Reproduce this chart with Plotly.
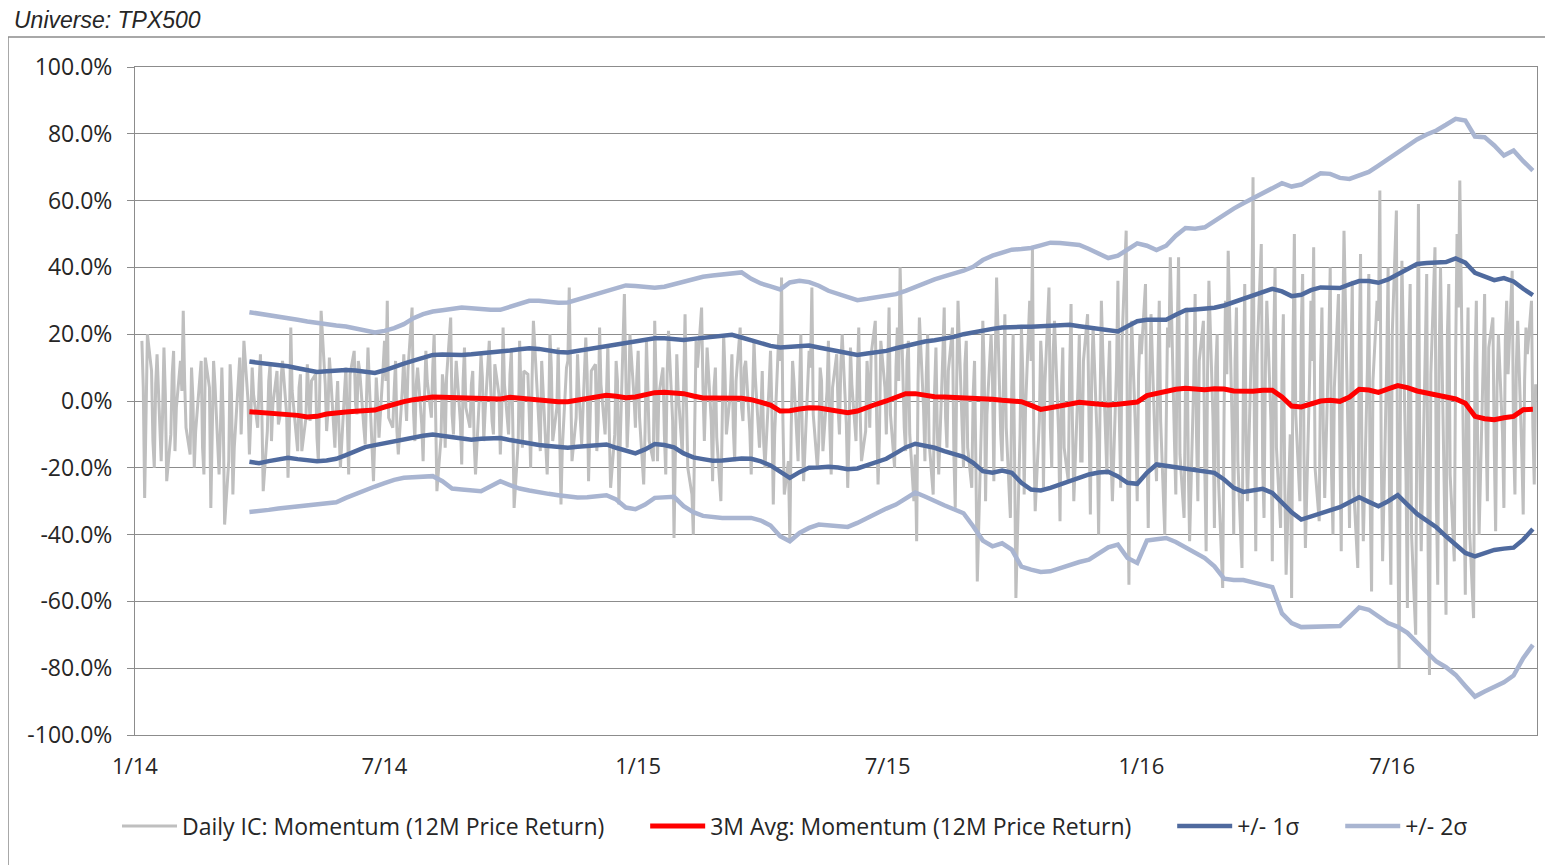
import pandas as pd
import plotly.graph_objects as go

# ---------------- data (values in %) ----------------
ic_start = "2014-01-06"      # daily IC, business days
band_start = "2014-03-25"    # 3M avg and sigma bands, weekly

daily_ic = [
    # Jan-Mar 2014
    18, 4, -29, -6, 20, 9, -12, -20, 5, 14, -18, -4, 16, 2, -24, -10, 8, 15, -15, -2,
    12, 3, 27, 6, -8, -16, 10, 1, -20, -9, 6, 12, -14, -22, 13, 4, -32, -12, 12, 5,
    -22, -8, 10, -5, -37, -18, 11, 2, -28, -14, 9, 13, -10, 6, 18, 0, -16, -5,
    # Apr-Sep 2014
    10, 2, -8, 5, 14, -3, -27, -9, 6, 11, -12, -1, 9, -7, -5, 7, 12, -4, -23, -8,
    22, 3, -10, -15, 4, 8, -15, -5, 11, 1, -6, 6, 8, -11, -18, 4, 27, 5, -9, -3,
    13, 7, -14, -2, 6, -9, -20, 3, 10, -6, -22, 8, 15, -1, -4, 12, 9, -8, -13, 2,
    16, 5, -24, -10, 7, 0, -11, 10, 18, 6, 30, -5, -8, 3, 12, -9, -16, 4, 14, 2,
    -6, 9, 28, -3, -12, 5, 10, -7, -18, 1, 15, 6, -5, 10, 20, -2, -27, -11, 8, 4,
    -14, 7, 25, -4, -10, 3, 12, -6, -19, 6, 16, -2, -8, 5, 9, -12, -22, 3, 14, 7,
    -12, -3, 18, 4, -6, -10, 11, 2, -16, -4,
    # Oct 2014 - Mar 2015
    22, 5, -10, 8, 15, -6, -32, -12, 18, 2, -14, 9, 8, -4, -20, 6, 24, 1, -8, -15,
    12, 4, -22, -7, 20, 10, -12, -2, 16, -9, -31, -14, 10, 12, 34, 6, -18, -5, 14, 3,
    -6, -13, 19, 8, -24, -3, 9, 11, -15, -6, 22, 5, -10, 2, 17, -8, -26, -10, 12, 6,
    -31, -12, 32, 9, -14, -4, 20, 1, -8, 7, 15, -5, -25, -9, 18, 4, -12, -18, 24, 6,
    -18, 2, 10, -10, -22, 8, 21, -6, -41, -15, 14, 3, -16, 5, 26, 0, -20, -28, -40, -8,
    18, 10, 28, 4,
    # Apr-Jul 2015
    -12, 2, 16, -6, -24, 4, 10, -11, -30, -5, 20, 8, -10, 3, 14, -8, -18, 6, 22, -2,
    -6, 10, 12, -9, -22, 1, 18, 7, -14, -4, 9, -12, -20, 5, 15, -3, -31, -10, 20, 12,
    37, -6, -28, -18, -42, -8, 12, 6, -18, 2, 20, -9, -24, 5, 15, 10, 34, -4, -20, -12,
    10, 6, -15, 3, 18, -8, -22, 4, 14, -2, -10, 11, 20, -7, -26, -10, 16, 5, -12, 8,
    22, -3, -18, -9, 12, 5, -8, 14, 24, -6, -25, -11, 18, 4, -10, 9,
    # Aug-Sep 2015
    28, -4, -20, 10, 22, 6, 40, -8, -15, 12, 18, -10, -30, -16, -42, 5, 25, -2, -18, 8,
    20, -12, -28, 3, 16, -9, -22, 14, 28, -5, -14, 9, 22, -16, -32, 4, 30, -8, -20, 11,
    18, -14, -26, 2, 12, -20, -54, -6, 24, 10, -30, -4, 20, 7, -24, 12, 37, -10, -18, 6,
    # Oct 2015 - Mar 2016
    26, -8, -35, 4, 20, -15, -59, -10, 22, 8, -28, -2, 30, 12, 46, -12, -33, -6, 18, 10,
    -26, 5, 34, -8, -20, 14, 24, -10, -36, 2, 16, -14, -24, 9, 29, -6, -30, 4, 20, -18,
    -18, 12, 26, -5, -34, 8, 22, -12, -40, -3, 30, 15, -22, 6, 18, -16, -30, 10, 36, -4,
    -26, 18, 51, -20, -55, 5, 24, -12, -30, 8, 20, 14, 35, -10, -38, 6, 26, -14, -24, 10,
    30, -6, -40, -8, 22, 16, 43, -12, -28, 20, 43, -16, -35, 4, 28, -18, -42, 6, 32, -10,
    -30, 12, 24, -20, -45, 8, 36, -6, -38, 10, 20, -24, -56, -4,
    # Apr-Oct 2016
    30, 8, 45, -10, -40, 12, 28, -18, -50, 5, 35, -12, -30, 20, 67, -8, -45, 14, 47, -20,
    -35, 10, 30, -6, -48, 18, 40, -14, -38, 8, 26, -24, -52, -10, -59, 16, 50, -4, -30, 22,
    38, -16, -44, 6, 30, 12, 46, -20, -36, 10, 28, -8, -29, 18, 40, -22, -40, 4, 32, -14,
    -45, 20, 51, -12, -38, 8, 36, -26, -50, 14, 44, -18, -42, 10, 38, -30, -57, 6, 30, 24,
    63, -16, -48, 12, 40, -28, -55, 20, 57, -36, -80, 4, 42, -24, -62, 18, 35, -40, -70, 10,
    59, -20, -45, 16, 38, -44, -82, 8, 46, -30, -55, 12, 40, -34, -64, 20, 35, -22, -48, 14,
    50, 28, 66, -26, -58, 6, 28, -38, -65, 10, 30, -16, -40, 12, 32, -8, -30, 16, 25, -14,
    -39, 4, 20, -10, -32, 18, 30, 8, 39, -12, -28, 10, 24, -16, -34, 6, 22, 14, 30, -8,
    -25, 5,
]

avg_3m = [
    -3.2, -3.4, -3.7, -3.9, -4.1, -4.3, -4.8, -4.6, -3.9, -3.5,
    -3.3, -3.1, -2.9, -2.7, -1.8, -0.9, -0.2, 0.4, 0.9, 1.2,
    1.1, 1.0, 0.9, 0.8, 0.6, 0.4, 0.6, 1.1, 0.8, 0.5,
    0.2, 0.0, -0.2, -0.2, 0.3, 0.8, 1.3, 1.7, 1.4, 1.0,
    1.2, 1.9, 2.5, 2.6, 2.5, 2.2, 1.5, 0.9, 0.9, 0.9,
    0.9, 0.8, 0.4, -0.3, -1.2, -3.0, -2.9, -2.4, -2.0, -2.1,
    -2.6, -3.1, -3.5, -3.0, -1.8, -0.9, 0.0, 1.2, 2.2, 2.2,
    1.7, 1.3, 1.2, 1.1, 1.0, 0.9, 0.9, 0.5, 0.2, 0.1,
    -0.2, -1.3, -2.5, -2.0, -1.5, -0.8, -0.4, -0.7, -1.0, -1.2,
    -1.0, -0.8, -0.3, 1.6, 2.3, 3.0, 3.5, 3.8, 3.6, 3.4,
    3.7, 3.6, 3.0, 2.8, 2.9, 3.2, 3.2, 1.2, -1.5, -1.8,
    -0.8, 0.0, 0.2, -0.1, 1.2, 3.5, 3.3, 2.6, 3.6, 4.6,
    4.0, 3.0, 2.4, 1.8, 1.2, 0.6, -0.7, -4.6, -5.3, -5.6,
    -5.0, -4.6, -2.6, -2.5,
]

upper_1s = [
    11.8, 11.5, 11.2, 10.9, 10.4, 9.8, 9.2, 8.7, 8.9, 9.1,
    9.3, 9.1, 8.8, 8.4, 9.2, 10.3, 11.2, 12.1, 13.0, 13.8,
    13.9, 13.7, 13.8, 14.0, 14.2, 14.5, 14.7, 15.1, 15.5, 15.8,
    15.6, 15.1, 14.7, 14.5, 15.0, 15.6, 16.1, 16.5, 16.9, 17.4,
    17.8, 18.3, 18.8, 18.8, 18.5, 18.3, 18.6, 18.9, 19.2, 19.5,
    19.8, 19.0, 18.1, 17.2, 16.5, 16.0, 16.3, 16.6, 16.6, 16.0,
    15.5, 14.9, 14.3, 13.8, 14.2, 14.5, 15.0, 15.8, 16.5, 17.3,
    17.8, 18.2, 18.6, 19.2, 20.0, 20.6, 21.3, 21.6, 22.0, 22.2,
    22.2, 22.2, 22.3, 22.5, 22.6, 22.8, 22.4, 22.0, 21.6, 21.0,
    20.8, 22.4, 23.9, 24.3, 24.3, 24.3, 25.8, 27.2, 27.4, 27.7,
    27.9, 28.6, 29.6, 30.6, 31.6, 32.6, 33.6, 32.8, 31.4, 31.8,
    33.2, 34.0, 33.9, 33.8, 34.9, 35.9, 35.9, 35.4, 36.4, 38.0,
    39.5, 41.0, 41.3, 41.3, 41.6, 42.7, 41.4, 38.4, 37.2, 36.2,
    36.8, 35.8, 33.6, 31.7,
]

lower_1s = [
    -18.2, -18.6, -18.0, -17.4, -17.0, -17.4, -17.8, -18.0, -17.8, -17.3,
    -16.2, -15.0, -13.8, -13.2, -12.6, -12.0, -11.4, -10.9, -10.4, -10.0,
    -10.4, -11.0, -11.5, -11.6, -11.3, -11.1, -11.1, -11.7, -12.3, -12.9,
    -13.2, -13.5, -13.8, -14.0, -13.7, -13.5, -13.2, -13.0, -14.0, -14.9,
    -15.7, -14.5, -12.9, -13.2, -13.9, -15.7, -16.9, -17.4, -17.9, -17.8,
    -17.5, -17.2, -17.3, -18.1, -19.3, -21.2, -23.0, -21.3, -20.0, -19.9,
    -19.7, -19.9, -20.4, -20.2, -19.3, -18.5, -17.3, -15.6, -13.9, -12.8,
    -13.3, -14.0, -15.0, -15.9, -16.7, -18.5, -21.0, -21.5, -20.8, -21.5,
    -24.5, -26.5, -26.8, -26.0, -25.0, -24.0, -23.0, -22.0, -21.4, -21.2,
    -22.6, -24.5, -24.8, -21.5, -19.0, -19.4, -19.9, -20.3, -20.6, -20.8,
    -21.5, -23.5, -26.0, -27.2, -26.8, -26.3, -27.5, -30.3, -33.3, -35.5,
    -34.6, -33.7, -33.0, -31.8, -30.3, -28.8, -30.2, -31.5, -30.0, -28.2,
    -31.0, -33.8, -35.8, -37.8, -40.5, -43.0, -45.5, -46.5, -45.5, -44.6,
    -44.2, -43.9, -41.5, -38.3,
]

upper_2s = [
    26.6, 26.2, 25.6, 25.2, 24.8, 24.3, 23.8, 23.3, 23.0, 22.6,
    22.3, 21.8, 21.2, 20.5, 21.0, 21.8, 23.0, 24.8, 26.0, 26.8,
    27.2, 27.6, 28.0, 27.8, 27.5, 27.3, 27.3, 28.3, 29.3, 30.0,
    30.0, 29.6, 29.4, 29.5, 30.4, 31.3, 32.1, 33.0, 33.8, 34.6,
    34.4, 34.1, 33.9, 34.2, 35.0, 35.8, 36.6, 37.2, 37.6, 38.0,
    38.3, 38.5, 36.6, 35.2, 34.3, 33.4, 35.5, 36.0, 35.6, 34.5,
    33.0, 32.0, 31.0, 30.2, 30.6, 31.0, 31.4, 32.0, 33.0, 34.2,
    35.4, 36.4, 37.3, 38.1, 39.0, 40.2, 42.2, 43.5, 44.5, 45.3,
    45.5, 45.8, 46.6, 47.4, 47.3, 47.0, 46.7, 45.5, 44.2, 42.8,
    43.5, 45.5, 47.2, 46.5, 45.2, 46.5, 49.5, 51.8, 51.6, 52.0,
    54.0, 56.0, 57.6, 59.2, 60.7, 62.3, 63.8, 65.2, 64.2, 64.8,
    66.5, 68.2, 68.0, 66.8, 66.5, 67.5, 68.6, 70.5, 72.4, 74.3,
    76.5, 78.3, 79.8, 81.0, 82.7, 84.5, 84.0, 79.2, 79.0, 76.5,
    73.5, 75.0, 71.8, 69.0,
]

lower_2s = [
    -33.2, -33.0, -32.6, -32.2, -31.9, -31.7, -31.4, -31.2, -30.9, -30.3,
    -29.0, -27.8, -26.7, -25.6, -24.6, -23.6, -23.0, -22.8, -22.6, -22.5,
    -24.0, -26.2, -26.5, -26.8, -27.0, -25.5, -24.0, -25.2, -26.2, -26.8,
    -27.4, -27.8, -28.2, -28.6, -28.9, -28.8, -28.5, -28.2, -29.5, -31.9,
    -32.4, -31.0, -29.0, -28.7, -28.7, -31.5, -33.3, -34.4, -34.8, -35.0,
    -35.0, -35.0, -35.0, -35.8, -37.3, -40.5, -42.0, -39.5, -38.0, -37.0,
    -37.2, -37.5, -37.7, -36.5, -35.0, -33.6, -32.2, -31.0, -29.0, -27.4,
    -28.6, -30.0, -31.2, -32.4, -33.6, -37.5, -41.8, -43.5, -42.6, -44.5,
    -49.6, -50.5, -51.2, -51.0, -50.0, -49.0, -48.2, -47.5, -45.6, -43.8,
    -43.0, -47.0, -48.5, -41.8, -41.4, -41.0, -42.2, -43.8, -45.4, -47.0,
    -49.5, -53.2, -53.6, -53.6, -54.3, -55.0, -55.7, -63.6, -66.5, -67.7,
    -67.7, -67.7, -67.7, -67.4, -64.6, -61.8, -62.5, -64.5, -66.5, -67.6,
    -69.4, -72.3, -75.2, -78.0, -79.7, -82.0, -85.3, -88.5, -87.0, -85.5,
    -84.2, -82.2, -77.0, -73.0,
]

series_names = ["Daily IC: Momentum (12M Price Return)", "3M Avg: Momentum (12M Price Return)",
                "+/- 1σ", "+/- 2σ"]
x_tick_dates = ["2014-01-01", "2014-07-01", "2015-01-01", "2015-07-01", "2016-01-01", "2016-07-01"]
x_tick_labels = ["1/14", "7/14", "1/15", "7/15", "1/16", "7/16"]
y_tick_vals = [-100, -80, -60, -40, -20, 0, 20, 40, 60, 80, 100]
y_tick_labels = ["-100.0%", "-80.0%", "-60.0%", "-40.0%", "-20.0%", "0.0%",
                 "20.0%", "40.0%", "60.0%", "80.0%", "100.0%"]

# ---------------- figure ----------------
ic_dates = pd.bdate_range(ic_start, periods=len(daily_ic))
band_dates = pd.date_range(band_start, periods=len(avg_3m), freq="7D")

GRAY = "#BFBFBF"
RED = "#FF0000"
DARK = "#4F6A9E"
LIGHT = "#A9B5D1"
PAD = "\u00a0" * 6   # spacing between legend entries

fig = go.Figure()
fig.add_trace(go.Scatter(x=ic_dates, y=daily_ic, mode="lines", name=series_names[0] + PAD,
                         line=dict(color=GRAY, width=3)))
fig.add_trace(go.Scatter(x=band_dates, y=avg_3m, mode="lines", name=series_names[1] + PAD,
                         line=dict(color=RED, width=5)))
fig.add_trace(go.Scatter(x=band_dates, y=upper_1s, mode="lines", name=series_names[2] + PAD, legendgroup="s1",
                         line=dict(color=DARK, width=4.5)))
fig.add_trace(go.Scatter(x=band_dates, y=lower_1s, mode="lines", name=series_names[2], legendgroup="s1",
                         showlegend=False, line=dict(color=DARK, width=4.5)))
fig.add_trace(go.Scatter(x=band_dates, y=upper_2s, mode="lines", name=series_names[3], legendgroup="s2",
                         line=dict(color=LIGHT, width=4.5)))
fig.add_trace(go.Scatter(x=band_dates, y=lower_2s, mode="lines", name=series_names[3], legendgroup="s2",
                         showlegend=False, line=dict(color=LIGHT, width=4.5)))

# page has an 8px body margin: figure is offset by 8px
OFF = 8
W, H = 1553 - OFF, 865 - OFF
PL, PR, PT, PB = 135, 1537, 67, 735          # plot area in page pixels
L, R, T, B = PL - OFF, (W + OFF) - PR, PT - OFF, (H + OFF) - PB
pw, ph = PR - PL, PB - PT

def px(xp):
    return (xp - PL) / pw

def py(yp):
    return (PB - yp) / ph

TXT = "#262626"
fig.update_layout(
    width=W, height=H,
    margin=dict(l=L, r=R, t=T, b=B),
    plot_bgcolor="white", paper_bgcolor="white",
    font=dict(family="Open Sans", size=22, color=TXT),
    showlegend=True,
    legend=dict(orientation="h", x=px(795), xanchor="center", y=py(826), yanchor="middle",
                font=dict(size=23, color=TXT), itemwidth=55, tracegroupgap=0,
                bgcolor="rgba(0,0,0,0)"),
    xaxis=dict(type="date", range=["2014-01-01", "2016-10-14"], tickvals=x_tick_dates, ticktext=x_tick_labels,
               showgrid=False, showline=True, linecolor="#8C8C8C", linewidth=1, mirror=True,
               ticks="", ticklabelstandoff=12, tickfont=dict(size=22)),
    yaxis=dict(range=[-100, 100], tickvals=y_tick_vals, ticktext=y_tick_labels,
               showgrid=True, gridcolor="#8C8C8C", gridwidth=1, zeroline=False,
               showline=True, linecolor="#8C8C8C", linewidth=1, mirror=True,
               ticks="outside", ticklen=7, tickcolor="#8C8C8C", ticklabelstandoff=10,
               tickfont=dict(size=23)),
)

# outer chart border and header
fig.add_shape(type="rect", xref="paper", yref="paper", x0=px(8), x1=px(1560), y0=py(875), y1=py(37),
              line=dict(color="#8C8C8C", width=1.5), fillcolor="rgba(0,0,0,0)", layer="below")
fig.add_annotation(xref="paper", yref="paper", x=px(12), y=py(20), xanchor="left", yanchor="middle",
                   text="<i>Universe: TPX500</i>", showarrow=False,
                   font=dict(family="Liberation Sans", size=23, color=TXT))

fig.write_html("out.html")
